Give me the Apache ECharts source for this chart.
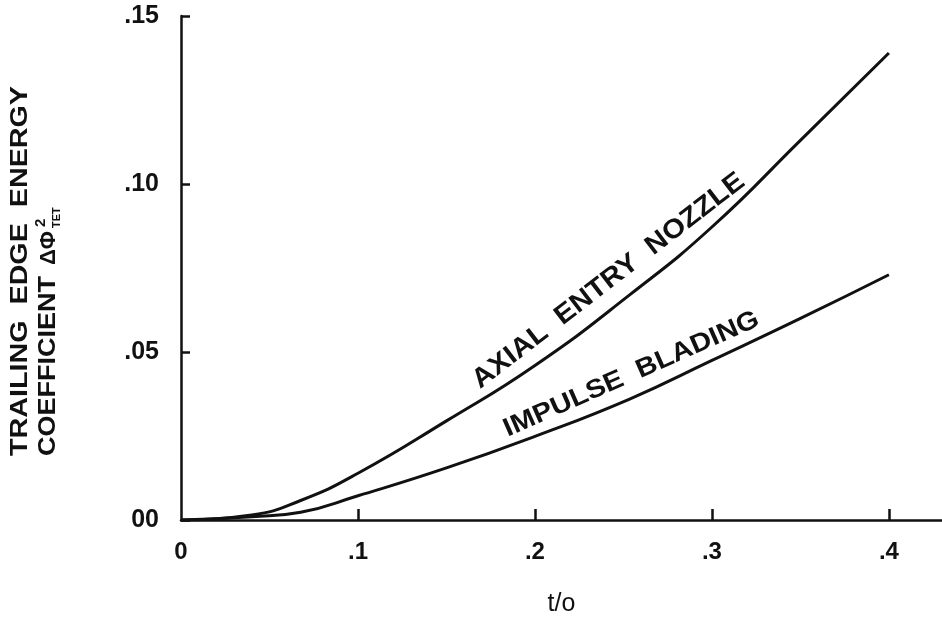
<!DOCTYPE html>
<html>
<head>
<meta charset="utf-8">
<script src="https://cdn.jsdelivr.net/npm/echarts@6/dist/echarts.min.js"></script>
<style>
  html, body { margin: 0; padding: 0; background: #fff; }
  #chart { width: 942px; height: 622px; }
</style>
</head>
<body>
<div id="chart"></div>
<script>
// t/o values
const tValues = [0, 0.04, 0.0676, 0.1, 0.15, 0.2, 0.2535, 0.3, 0.35, 0.4];
const axialNozzle = [0, 0.0015, 0.0058, 0.0139, 0.0295, 0.046, 0.067, 0.0872, 0.113, 0.139];
const impulseBlading = [0, 0.001, 0.0023, 0.0072, 0.0155, 0.0249, 0.036, 0.0475, 0.06, 0.073];

const xLabelValues = [0, 0.1, 0.2, 0.3, 0.4];
const xLabelTexts = ['0', '.1', '.2', '.3', '.4'];
const xTickValues = [0.1, 0.2, 0.3, 0.4];
const yLabelValues = [0, 0.05, 0.1, 0.15];
const yLabelTexts = ['00', '.05', '.10', '.15'];

// curve label anchors: [start, end] in data coords
const axialLabel = { text: 'AXIAL  ENTRY  NOZZLE', from: [0.171, 0.0375], to: [0.3215, 0.0985] };
const impulseLabel = { text: 'IMPULSE  BLADING', from: [0.186, 0.0232], to: [0.329, 0.0565] };

const FONT = 'Liberation Sans, Arial, Helvetica, sans-serif';
const ink = '#111';

const chart = echarts.init(document.getElementById('chart'));

function pairs(ys) {
  return tValues.map((t, i) => [t, ys[i]]);
}

function pick(values, texts) {
  return function (v) {
    for (let i = 0; i < values.length; i++) {
      if (Math.abs(values[i] - v) < 1e-6) return texts[i];
    }
    return '';
  };
}

const option = {
  animation: false,
  backgroundColor: '#fff',
  grid: { left: 181, right: 0, top: 16, bottom: 91 },
  xAxis: {
    type: 'value',
    min: 0,
    max: 0.43,
    name: 't/o',
    nameLocation: 'middle',
    nameGap: 72,
    nameTextStyle: { color: ink, fontSize: 25, fontFamily: FONT },
    axisLine: { lineStyle: { color: ink, width: 2.5 } },
    axisTick: { show: true, inside: true, length: 11, customValues: xTickValues, lineStyle: { color: ink, width: 2.5 } },
    axisLabel: {
      customValues: xLabelValues,
      formatter: pick(xLabelValues, xLabelTexts),
      color: ink, fontSize: 24, fontWeight: 'bold', fontFamily: FONT, margin: 20,
    },
    splitLine: { show: false },
  },
  yAxis: {
    type: 'value',
    min: 0,
    max: 0.15,
    interval: 0.05,
    axisLine: { show: true, lineStyle: { color: ink, width: 2.5 } },
    axisTick: { show: true, inside: true, length: 9, lineStyle: { color: ink, width: 2.5 } },
    axisLabel: {
      formatter: pick(yLabelValues, yLabelTexts),
      color: ink, fontSize: 25, fontWeight: 'bold', fontFamily: FONT, margin: 22,
    },
    splitLine: { show: false },
  },
  series: [
    {
      name: 'AXIAL ENTRY NOZZLE',
      type: 'line',
      data: pairs(axialNozzle),
      smooth: 0.5,
      symbol: 'none',
      lineStyle: { color: ink, width: 3 },
    },
    {
      name: 'IMPULSE BLADING',
      type: 'line',
      data: pairs(impulseBlading),
      smooth: 0.5,
      symbol: 'none',
      lineStyle: { color: ink, width: 3 },
    },
  ],
};

chart.setOption(option);

// text along curves, sized to span the anchor points
const ctx = document.createElement('canvas').getContext('2d');
function textWidth(text, font) {
  ctx.font = font;
  return ctx.measureText(text).width;
}

function curveText(lbl, size) {
  const p0 = chart.convertToPixel({ gridIndex: 0 }, lbl.from);
  const p1 = chart.convertToPixel({ gridIndex: 0 }, lbl.to);
  const len = Math.hypot(p1[0] - p0[0], p1[1] - p0[1]);
  const ang = Math.atan2(p0[1] - p1[1], p1[0] - p0[0]);
  const font = 'bold ' + size + 'px ' + FONT;
  return {
    type: 'text',
    x: p0[0],
    y: p0[1],
    rotation: ang,
    scaleX: len / textWidth(lbl.text, font),
    style: {
      text: lbl.text, x: 0, y: 0, align: 'left', verticalAlign: 'bottom',
      fill: ink, font: font,
    },
  };
}

// vertical y title, stretched to the lengths in the original
const titleFont = 'bold 23px ' + FONT;
const line1 = 'TRAILING  EDGE  ENERGY';
const line2 = 'COEFFICIENT';
const yTitle = {
  type: 'group',
  x: 49,
  y: 456,
  rotation: Math.PI / 2,
  children: [
    { type: 'text', x: 0, y: -28, scaleX: 370 / textWidth(line1, titleFont), style: { text: line1, align: 'left', verticalAlign: 'middle', fill: ink, font: titleFont } },
    { type: 'text', x: 0, y: 0, scaleX: 180 / textWidth(line2, titleFont), style: { text: line2, align: 'left', verticalAlign: 'middle', fill: ink, font: titleFont } },
    { type: 'text', x: 191, y: 0, style: { text: 'ΔΦ', align: 'left', verticalAlign: 'middle', fill: ink, font: 'bold 22px ' + FONT } },
    { type: 'text', x: 229, y: -8, style: { text: '2', align: 'left', verticalAlign: 'middle', fill: ink, font: 'bold 15px ' + FONT } },
    { type: 'text', x: 228, y: 8, style: { text: 'TET', align: 'left', verticalAlign: 'middle', fill: ink, font: 'bold 11px ' + FONT } },
  ],
};

chart.setOption({
  graphic: [curveText(axialLabel, 27), curveText(impulseLabel, 26), yTitle],
});
</script>
</body>
</html>
